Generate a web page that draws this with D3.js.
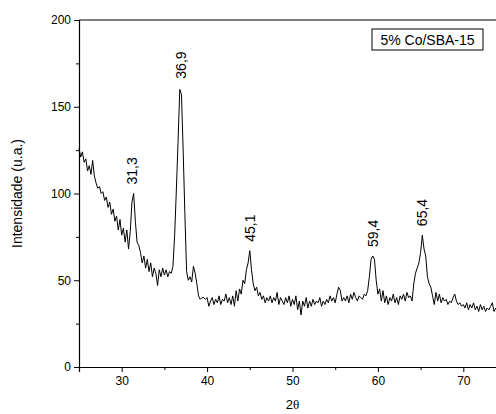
<!DOCTYPE html>
<html>
<head>
<meta charset="utf-8">
<script src="https://cdn.jsdelivr.net/npm/d3@7"></script>
<style>
  body { margin: 0; background: #fff; }
  svg { display: block; font-family: "Liberation Sans", Arial, sans-serif; }
</style>
</head>
<body>
<div id="chart"></div>
<script>
// XRD pattern, 5% Co/SBA-15 — sampled every 0.2 deg from 25.0
const angleStart = 25.0;
const angleStep = 0.2;
const intensity = [
  126, 121, 124, 118, 120,   // 25
  113, 116, 111, 119, 110,   // 26
  106, 103, 104, 100, 101,   // 27
   96,  98,  92,  95,  88,   // 28
   91,  84,  87,  79,  85,   // 29
   76,  80,  72,  79,  68,   // 30
   78,  95, 100,  84,  72,   // 31
   70,  66,  60,  64,  57,   // 32
   62,  55,  60,  52,  57,   // 33
   54,  47,  56,  52,  57,   // 34
   53,  56,  52,  55,  54,   // 35
   58,  76, 102, 130, 160,   // 36
  157, 124,  88,  55,  50,   // 37
   52,  49,  58,  54,  48,   // 38
   41,  39,  40,  40,  39,   // 39
   40,  35,  38,  40,  36,   // 40
   39,  37,  41,  36,  39,   // 41
   38,  42,  37,  40,  36,   // 42
   41,  35,  44,  38,  45,   // 43
   42,  50,  48,  56,  60,   // 44
   67,  56,  48,  44,  46,   // 45
   41,  43,  39,  41,  37,   // 46
   40,  38,  41,  37,  40,   // 47
   38,  43,  36,  40,  38,   // 48
   36,  40,  37,  41,  35,   // 49
   39,  36,  41,  33,  38,   // 50
   30,  38,  35,  40,  34,   // 51
   38,  35,  39,  36,  38,   // 52
   37,  40,  35,  38,  36,   // 53
   39,  37,  41,  38,  40,   // 54
   37,  42,  46,  44,  38,   // 55
   40,  38,  41,  37,  42,   // 56
   39,  43,  40,  38,  41,   // 57
   40,  39,  42,  41,  44,   // 58
   52,  62,  64,  62,  50,   // 59
   42,  45,  38,  44,  37,   // 60
   41,  36,  40,  38,  42,   // 61
   37,  40,  36,  41,  39,   // 62
   42,  38,  43,  40,  41,   // 63
   38,  48,  54,  57,  60,   // 64
   66,  76,  68,  64,  52,   // 65
   48,  46,  41,  36,  43,   // 66
   38,  42,  37,  40,  38,   // 67
   39,  36,  38,  37,  40,   // 68
   42,  38,  36,  37,  35,   // 69
   36,  34,  37,  33,  36,   // 70
   34,  37,  33,  35,  32,   // 71
   36,  33,  35,  32,  34,   // 72
   33,  35,  37,  32,  34,   // 73
   33                        // 74
];

const peakAngles = [31.2, 36.9, 45.0, 59.4, 65.2];
const peakValues = [100, 161, 67, 64, 76];
const peakLabels = ["31,3", "36,9", "45,1", "59,4", "65,4"];

const xMajorTicks = [30, 40, 50, 60, 70];
const xMinorTicks = [25, 35, 45, 55, 65, 75];
const yMajorTicks = [0, 50, 100, 150, 200];
const yMinorTicks = [25, 75, 125, 175];

const sampleName = "5% Co/SBA-15";

const width = 496, height = 414;
const svg = d3.select("#chart").append("svg")
    .attr("width", width)
    .attr("height", height);

const x = d3.scaleLinear().domain([25, 75]).range([79, 506]);
const y = d3.scaleLinear().domain([0, 200]).range([367, 20]);

const points = intensity.map((v, i) => [angleStart + i * angleStep, v]);

// frame (top border; right side falls outside the picture)
svg.append("line")
    .attr("x1", x(25)).attr("x2", x(75))
    .attr("y1", y(200)).attr("y2", y(200))
    .attr("stroke", "#000").attr("stroke-width", 1.2);

// X axis
svg.append("g")
    .attr("transform", `translate(0,${y(0)})`)
    .call(d3.axisBottom(x).tickValues(xMajorTicks).tickSize(5).tickPadding(4).tickFormat(d3.format("d")))
    .call(g => g.select(".domain").attr("stroke-width", 1.2))
    .call(g => g.selectAll("text").attr("font-size", 12).attr("font-family", "Liberation Sans, Arial, sans-serif"));
svg.append("g")
    .attr("transform", `translate(0,${y(0)})`)
    .call(d3.axisBottom(x).tickValues(xMinorTicks).tickSize(3).tickFormat(""))
    .call(g => g.select(".domain").remove());

// Y axis
svg.append("g")
    .attr("transform", `translate(${x(25)},0)`)
    .call(d3.axisLeft(y).tickValues(yMajorTicks).tickSize(5).tickPadding(3).tickFormat(d3.format("d")))
    .call(g => g.select(".domain").attr("stroke-width", 1.2))
    .call(g => g.selectAll("text").attr("font-size", 12).attr("font-family", "Liberation Sans, Arial, sans-serif"));
svg.append("g")
    .attr("transform", `translate(${x(25)},0)`)
    .call(d3.axisLeft(y).tickValues(yMinorTicks).tickSize(3).tickFormat(""))
    .call(g => g.select(".domain").remove());

// axis titles
svg.append("text")
    .attr("transform", `translate(22,${(y(0) + y(200)) / 2}) rotate(-90)`)
    .attr("text-anchor", "middle")
    .attr("font-size", 14)
    .text("Intensidade (u.a.)");

svg.append("text")
    .attr("x", x(50))
    .attr("y", 409)
    .attr("text-anchor", "middle")
    .attr("font-size", 13)
    .text("2")
    .append("tspan")
    .attr("font-family", "Liberation Serif, Times New Roman, serif")
    .text("θ");

// curve
svg.append("path")
    .datum(points)
    .attr("fill", "none")
    .attr("stroke", "#000")
    .attr("stroke-width", 1)
    .attr("stroke-linejoin", "round")
    .attr("d", d3.line().x(d => x(d[0])).y(d => y(d[1])));

// peak labels
svg.selectAll(".peak-label")
    .data(peakAngles)
    .enter()
    .append("text")
    .attr("class", "peak-label")
    .attr("transform", (d, i) => `translate(${x(d) + 5},${y(peakValues[i]) - 9}) rotate(-90)`)
    .attr("font-size", 14)
    .text((d, i) => peakLabels[i]);

// sample label box
const legend = svg.append("g").attr("transform", "translate(372,29)");
legend.append("rect")
    .attr("width", 111).attr("height", 21)
    .attr("fill", "#fff").attr("stroke", "#000").attr("stroke-width", 1);
legend.append("text")
    .attr("x", 55.5).attr("y", 15.5)
    .attr("text-anchor", "middle")
    .attr("font-size", 14)
    .text(sampleName);
</script>
</body>
</html>
